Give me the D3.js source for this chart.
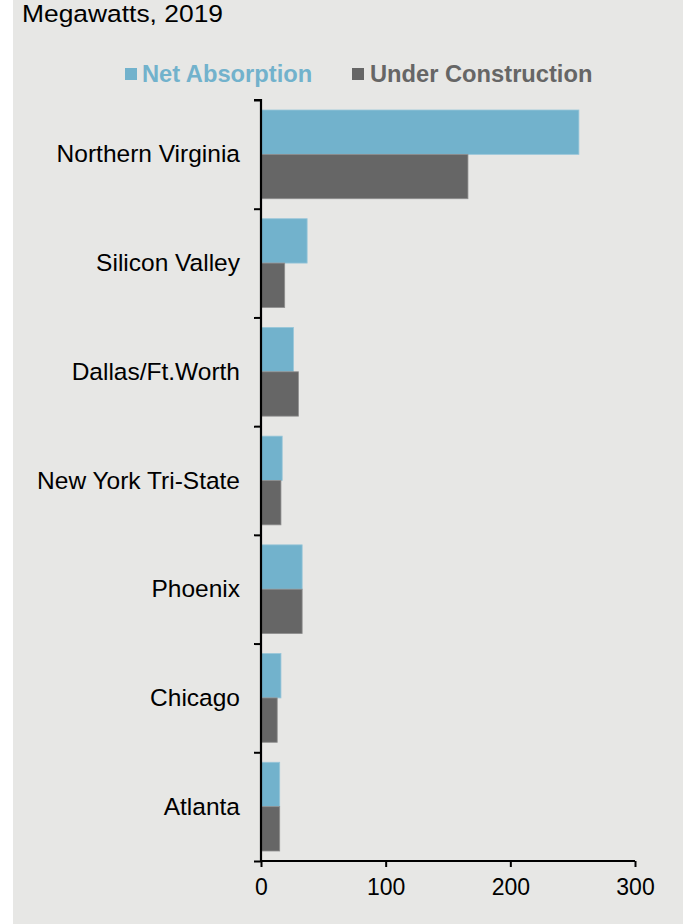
<!DOCTYPE html>
<html>
<head>
<meta charset="utf-8">
<script src="https://cdn.jsdelivr.net/npm/d3@7"></script>
<style>
  html, body { margin: 0; padding: 0; background: #ffffff; }
  svg { display: block; }
  text { font-family: "Liberation Sans", Arial, sans-serif; }
</style>
</head>
<body>
<svg id="chart" width="683" height="924"></svg>
<script>
// Data centre markets, megawatts in 2019
const markets = ["Northern Virginia", "Silicon Valley", "Dallas/Ft.Worth", "New York Tri-State", "Phoenix", "Chicago", "Atlanta"];
const netAbsorption = [255, 37, 26, 17, 33, 16, 15];
const underConstruction = [166, 19, 30, 16, 33, 13, 15];
const seriesNames = ["Net Absorption", "Under Construction"];
const xTicks = [0, 100, 200, 300];

const colors = { "Net Absorption": "#72b2cc", "Under Construction": "#666666" };
const edgeColors = { "Net Absorption": "#98c6d9", "Under Construction": "#8e8e8e" };

const svg = d3.select("#chart");
const W = 683, H = 924;

// panel background
svg.append("rect").attr("x", 13).attr("y", 0).attr("width", W - 13).attr("height", H).attr("fill", "#e7e7e5");

const plotLeft = 261, plotRight = 635, plotTop = 100, plotBottom = 861;

const x = d3.scaleLinear().domain([0, 300]).range([plotLeft, plotRight]);
const y0 = d3.scaleBand().domain(markets).range([plotTop, plotBottom]).paddingInner(0).paddingOuter(0);
const y1 = d3.scaleBand().domain(seriesNames).range([10, y0.bandwidth() - 10]).padding(0);

const rows = markets.map((m, i) => ({
  market: m,
  values: [
    { key: "Net Absorption", value: netAbsorption[i] },
    { key: "Under Construction", value: underConstruction[i] }
  ]
}));

// bars
const groups = svg.append("g").selectAll("g").data(rows).join("g")
  .attr("transform", d => `translate(0,${y0(d.market)})`);
groups.selectAll("rect").data(d => d.values).join("rect")
  .attr("x", x(0))
  .attr("y", d => y1(d.key))
  .attr("width", d => x(d.value) - x(0))
  .attr("height", y1.bandwidth())
  .attr("fill", d => colors[d.key])
  .attr("stroke", d => edgeColors[d.key])
  .attr("stroke-width", 0.8);

// category axis: ticks on band boundaries, labels at band centres
const boundary = d3.scaleLinear().domain([0, markets.length]).range([plotTop, plotBottom]);
const yAxis = svg.append("g").attr("transform", `translate(${plotLeft},0)`)
  .call(d3.axisLeft(boundary).tickValues(d3.range(markets.length + 1)).tickSize(7).tickFormat(""));
yAxis.select(".domain").attr("stroke", "#000").attr("stroke-width", 2.2).attr("d", `M-7,${plotTop}H0V${plotBottom}`);
yAxis.selectAll(".tick line").attr("stroke", "#000").attr("stroke-width", 2);

svg.append("g").selectAll("text").data(markets).join("text")
  .attr("x", 240)
  .attr("y", d => y0(d) + y0.bandwidth() / 2)
  .attr("dy", "0.33em")
  .attr("text-anchor", "end")
  .attr("font-size", 24.5)
  .attr("fill", "#000")
  .text(d => d);

// value axis
const xAxis = svg.append("g").attr("transform", `translate(0,${plotBottom})`)
  .call(d3.axisBottom(x).tickValues(xTicks).tickSize(6).tickPadding(12).tickFormat(d3.format("d")));
xAxis.select(".domain").attr("stroke", "#000").attr("stroke-width", 2.2).attr("d", `M${plotLeft},0H${plotRight}`);
xAxis.selectAll(".tick line").attr("stroke", "#000").attr("stroke-width", 2);
xAxis.selectAll(".tick text").attr("font-size", 23).attr("fill", "#000")
  .attr("font-family", "'Liberation Sans', Arial, sans-serif");

// title
svg.append("text").attr("x", 22).attr("y", 22).attr("font-size", 24.5).attr("fill", "#000")
  .attr("textLength", 201).attr("lengthAdjust", "spacingAndGlyphs")
  .text("Megawatts, 2019");

// legend
const legendItems = [
  { key: "Net Absorption", sx: 125, tx: 142 },
  { key: "Under Construction", sx: 352, tx: 370 }
];
const lg = svg.append("g").selectAll("g").data(legendItems).join("g");
lg.append("rect").attr("x", d => d.sx).attr("y", 68).attr("width", 12).attr("height", 12)
  .attr("fill", d => colors[d.key]);
lg.append("text").attr("x", d => d.tx).attr("y", 82).attr("font-size", 23.7).attr("font-weight", "bold")
  .attr("fill", d => colors[d.key]).text(d => d.key);
</script>
</body>
</html>
